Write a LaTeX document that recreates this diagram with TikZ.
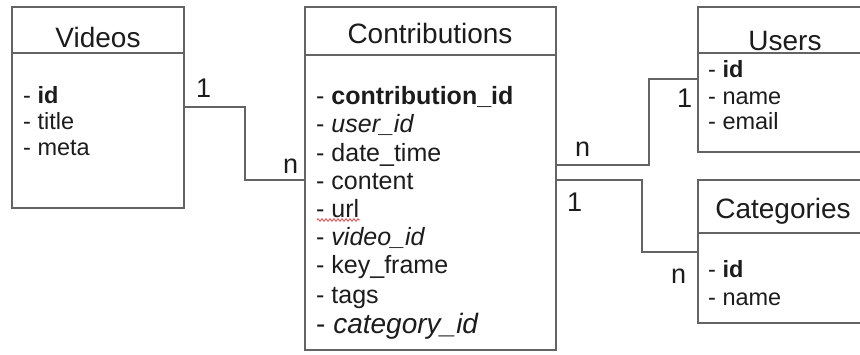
\documentclass[tikz,border=0pt]{standalone}
\usepackage{fontspec}
\setmainfont{Liberation Sans}
\usetikzlibrary{decorations.pathmorphing}
\definecolor{linegray}{RGB}{100,100,100}
\definecolor{ink}{RGB}{28,28,28}
\definecolor{squig}{RGB}{230,70,70}
\begin{document}
\begin{tikzpicture}[x=1pt,y=-1pt,
  box/.style={draw=linegray, line width=1.5pt, inner sep=0pt, outer sep=0pt, anchor=north west},
  conn/.style={draw=linegray, line width=1.4pt},
  ttl/.style={font=\fontsize{28}{30}\selectfont, text=ink, inner sep=0pt, anchor=base},
  itm/.style={font=\fontsize{25}{28}\selectfont, text=ink, inner sep=0pt, anchor=base west},
  sitm/.style={font=\fontsize{23.5}{26}\selectfont, text=ink, inner sep=0pt, anchor=base west},
  card/.style={font=\fontsize{27}{30}\selectfont, text=ink, inner sep=0pt, anchor=base west}]
\useasboundingbox (0,0) rectangle (860,354);
\fill[white] (0,0) rectangle (860,354);
\clip (0,0) rectangle (860,354);

% Videos
\node[box, minimum width=172pt, minimum height=46pt] (vhead) at (12,7) {};
\node[box, minimum width=172pt, minimum height=155pt] (vbody) at (12,53) {};
\node[ttl] (vt) at (98,47) {Videos};
\node[sitm] (v1) at (23,103) {- \textbf{id}};
\node[sitm] (v2) at (23,129) {- title};
\node[sitm] (v3) at (23,155) {- meta};

% Contributions
\node[box, minimum width=251pt, minimum height=48pt] (chead) at (305,7) {};
\node[box, minimum width=251pt, minimum height=295pt] (cbody) at (305,55) {};
\node[ttl] (ct) at (430,43) {Contributions};
\node[itm] (c1) at (316,104) {- \textbf{contribution\_id}};
\node[itm] (c2) at (316,132) {- \textit{user\_id}};
\node[itm] (c3) at (316,161) {- date\_time};
\node[itm] (c4) at (316,189) {- content};
\node[itm] (c5) at (316,217) {- url};
\node[itm] (c6) at (316,245) {- \textit{video\_id}};
\node[itm] (c7) at (316,273) {- key\_frame};
\node[itm] (c8) at (316,303) {- tags};
\node[itm, font=\fontsize{28}{30}\selectfont] (c9) at (316,333) {- \textit{category\_id}};
\draw[squig, line width=0.8pt, decorate, decoration={zigzag, amplitude=1.3pt, segment length=4pt}]
  ([xshift=1pt, yshift=-3pt]c5.base west) -- ([xshift=44pt, yshift=-3pt]c5.base west);

% Users
\node[box, minimum width=174pt, minimum height=46pt] (uhead) at (698,7) {};
\node[box, minimum width=174pt, minimum height=99pt] (ubody) at (698,53) {};
\node[ttl] (ut) at (785,50) {Users};
\node[sitm] (u1) at (708,77) {- \textbf{id}};
\node[sitm] (u2) at (708,104) {- name};
\node[sitm] (u3) at (708,129) {- email};

% Categories
\node[box, minimum width=174pt, minimum height=53pt] (kahead) at (698,180) {};
\node[box, minimum width=174pt, minimum height=90pt] (kabody) at (698,233) {};
\node[ttl] (kat) at (783,218) {Categories};
\node[sitm] (k1) at (708,277) {- \textbf{id}};
\node[sitm] (k2) at (708,305) {- name};

% connectors
\coordinate (b1) at (245,107);
\coordinate (b2) at (649,165);
\coordinate (b3) at (642,180);
\draw[conn] (vbody.east |- b1) -- (b1) |- (cbody.west |- 0,180);
\draw[conn] (cbody.east |- b2) -- (b2) |- (ubody.west |- 0,79);
\draw[conn] (cbody.east |- b3) -- (b3) |- (kabody.west |- 0,252);

% cardinalities
\node[card] (l1) at (196,97) {1};
\node[card] (l2) at (283,173) {n};
\node[card] (l3) at (575,156) {n};
\node[card] (l4) at (677,107) {1};
\node[card] (l5) at (567,211) {1};
\node[card] (l6) at (671,283) {n};
\end{tikzpicture}
\end{document}
